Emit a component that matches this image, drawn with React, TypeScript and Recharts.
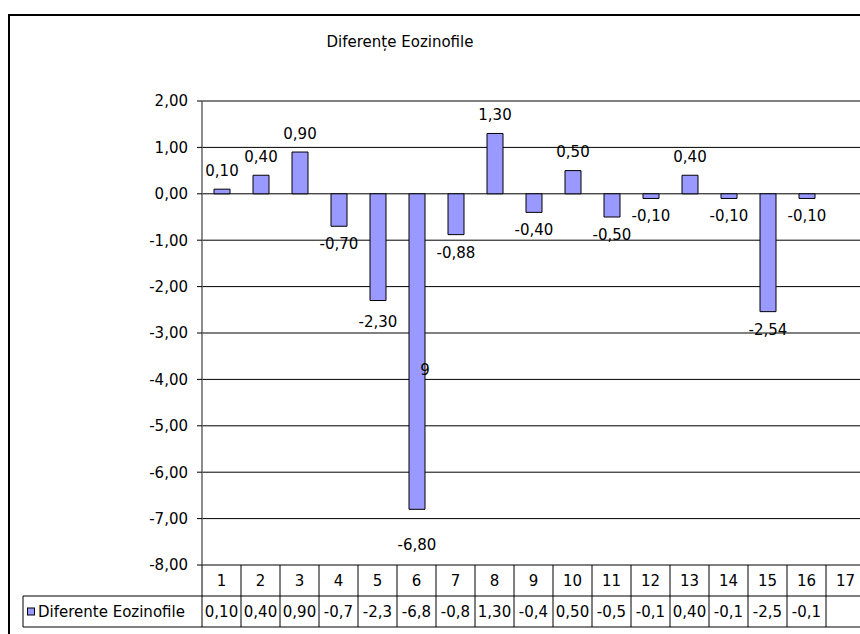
import React from "react";
import { BarChart, Bar, XAxis, YAxis, CartesianGrid, LabelList } from "recharts";

// eosinophil differences per patient (1..17, last one has no reading)
const categories = ["1", "2", "3", "4", "5", "6", "7", "8", "9", "10", "11", "12", "13", "14", "15", "16", "17"];
const diffValues: (number | null)[] = [
  0.1, 0.4, 0.9, -0.7, -2.3, -6.8, -0.88, 1.3, -0.4, 0.5, -0.5, -0.1, 0.4, -0.1, -2.54, -0.1, null,
];
const yTicks = [-8, -7, -6, -5, -4, -3, -2, -1, 0, 1, 2];
const seriesName = "Diferente Eozinofile";
const chartTitle = "Diferențe Eozinofile";
// leftover label sitting inside bar 6
const strayLabel = { index: 5, text: "9" };

const data = categories.map((cat, i) => ({ cat, value: diffValues[i] }));

const FONT = '"DejaVu Sans", sans-serif';
const FONT_SIZE = 15;
const BAR_FILL = "#9999FF";
const LINE = "#000";

const CHART_W = 880;
const CHART_H = 634;
const MARGIN = { top: 101, right: 15, bottom: 7, left: 142 };
const Y_AXIS_W = 60;
const ROW_H = 31;
const TABLE_H = ROW_H * 2;
const PLOT_LEFT = MARGIN.left + Y_AXIS_W;
const PLOT_BOTTOM = CHART_H - MARGIN.bottom - TABLE_H;
const COL_W = (CHART_W - PLOT_LEFT - MARGIN.right) / categories.length;
const LEGEND_LEFT = 23;

// some labels were dragged further down below their bars
const LABEL_DROP: Record<number, number> = { 4: 3, 5: 18 };

const fmt = (v: number) => v.toFixed(2).replace(".", ",");
const tableText = (v: number | null) => (v == null ? "" : fmt(v).slice(0, 4));

const textStyle = { fontFamily: FONT, fontSize: FONT_SIZE, fill: "#000" };

const TableTick = (props: any) => {
  const { x, payload } = props;
  const i: number = payload.index;
  const left = x - COL_W / 2;
  const top = PLOT_BOTTOM;
  return (
    <g>
      {i === 0 && (
        <g>
          <line x1={LEGEND_LEFT} x2={CHART_W} y1={top + ROW_H} y2={top + ROW_H} stroke={LINE} />
          <line x1={LEGEND_LEFT} x2={CHART_W} y1={top + TABLE_H} y2={top + TABLE_H} stroke={LINE} />
          <line x1={LEGEND_LEFT} x2={LEGEND_LEFT} y1={top + ROW_H} y2={top + TABLE_H} stroke={LINE} />
          <rect
            x={LEGEND_LEFT + 4.5}
            y={top + ROW_H * 1.5 - 3.5}
            width={7}
            height={7}
            fill={BAR_FILL}
            stroke={LINE}
          />
          <text
            x={LEGEND_LEFT + 15}
            y={top + ROW_H * 1.5}
            dominantBaseline="central"
            style={textStyle}
          >
            {seriesName}
          </text>
        </g>
      )}
      <line x1={left} x2={left} y1={top} y2={top + TABLE_H} stroke={LINE} />
      {i === categories.length - 1 && (
        <line x1={left + COL_W} x2={left + COL_W} y1={top} y2={top + TABLE_H} stroke={LINE} />
      )}
      <text x={x} y={top + ROW_H / 2} textAnchor="middle" dominantBaseline="central" style={textStyle}>
        {payload.value}
      </text>
      <text x={x} y={top + ROW_H * 1.5} textAnchor="middle" dominantBaseline="central" style={textStyle}>
        {tableText(diffValues[i])}
      </text>
    </g>
  );
};

const ValueLabel = (props: any) => {
  const { x, y, width, height, value, index } = props;
  if (value == null) return null;
  const top = Math.min(y, y + height);
  const bottom = Math.max(y, y + height);
  const cx = x + width / 2;
  const ty = value >= 0 ? top - 18.5 : bottom + 18 + (LABEL_DROP[index] ?? 0);
  return (
    <g>
      <text x={cx} y={ty} textAnchor="middle" dominantBaseline="central" style={textStyle}>
        {fmt(value)}
      </text>
      {index === strayLabel.index && (
        <text
          x={cx + 8}
          y={top + (bottom - top) * 0.56}
          textAnchor="middle"
          dominantBaseline="central"
          style={textStyle}
        >
          {strayLabel.text}
        </text>
      )}
    </g>
  );
};

export default function App() {
  return (
    <div
      style={{
        position: "fixed",
        left: 0,
        top: 0,
        width: 860,
        height: 634,
        overflow: "hidden",
        background: "#fff",
        fontFamily: FONT,
      }}
    >
      <div
        style={{
          position: "absolute",
          left: 8,
          top: 14,
          width: 900,
          height: 700,
          borderLeft: "2px solid #000",
          borderTop: "2px solid #000",
        }}
      />
      <div
        style={{
          position: "absolute",
          left: 250,
          top: 33,
          width: 300,
          textAlign: "center",
          fontSize: FONT_SIZE,
          lineHeight: "18px",
          color: "#000",
        }}
      >
        {chartTitle}
      </div>
      <div style={{ position: "absolute", left: 0, top: 0 }}>
        <BarChart width={CHART_W} height={CHART_H} data={data} margin={MARGIN}>
          <CartesianGrid vertical={false} stroke={LINE} strokeOpacity={1} />
          <XAxis
            dataKey="cat"
            height={TABLE_H}
            interval={0}
            axisLine={false}
            tickLine={false}
            tickSize={0}
            tick={TableTick}
          />
          <YAxis
            width={Y_AXIS_W}
            domain={[-8, 2]}
            ticks={yTicks}
            interval={0}
            tickFormatter={(v: number) => fmt(v)}
            tick={textStyle}
            tickSize={5}
            tickMargin={9}
            tickLine={{ stroke: LINE }}
            axisLine={{ stroke: "#666", strokeWidth: 1.5 }}
          />
          <Bar dataKey="value" fill={BAR_FILL} stroke={LINE} strokeWidth={1} barSize={16} isAnimationActive={false}>
            <LabelList dataKey="value" content={ValueLabel} />
          </Bar>
        </BarChart>
      </div>
    </div>
  );
}
